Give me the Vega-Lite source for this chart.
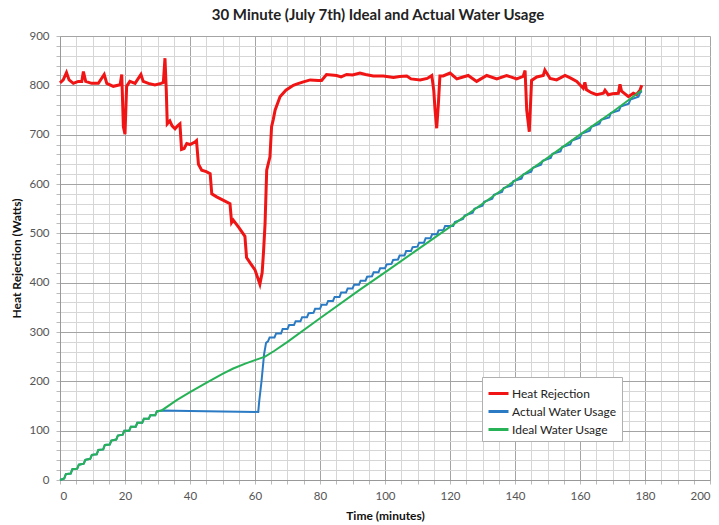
{
  "$schema": "https://vega.github.io/schema/vega-lite/v6.json",
  "width": 650,
  "height": 444,
  "autosize": {"type": "none"},
  "padding": {"left": 60, "top": 36, "right": 9, "bottom": 45},
  "background": "white",
  "title": {"text": "30 Minute (July 7th) Ideal and Actual Water Usage", "font": "Lato", "fontSize": 15, "fontWeight": "bold", "color": "#222222", "offset": 7, "anchor": "middle", "dx": -7},
  "config": {
    "view": {"stroke": null},
    "axis": {"labelFont": "Lato", "labelFontSize": 11.5, "labelColor": "#555555", "titleFont": "Lato", "titleFontSize": 12, "titleFontWeight": "bold", "titleColor": "#111111", "domainColor": "#999999", "tickColor": "#bbbbbb", "tickSize": 4}
  },
  "datasets": {
    "heat": [
      {"minutes":0,"watts":805},{"minutes":1,"watts":811},{"minutes":2,"watts":826},{"minutes":2.8,"watts":811},{"minutes":4.1,"watts":804},{"minutes":5.6,"watts":808},{"minutes":6.7,"watts":808},{"minutes":7.2,"watts":828},{"minutes":7.9,"watts":808},{"minutes":9.7,"watts":804},{"minutes":11.8,"watts":804},{"minutes":13.6,"watts":822},{"minutes":14.4,"watts":804},{"minutes":16.4,"watts":798},{"minutes":18.5,"watts":801},{"minutes":19,"watts":822},{"minutes":19.5,"watts":716},{"minutes":20,"watts":701},{"minutes":20.5,"watts":798},{"minutes":21.5,"watts":808},{"minutes":23.1,"watts":804},{"minutes":24.9,"watts":822},{"minutes":25.6,"watts":808},{"minutes":27.2,"watts":804},{"minutes":29.2,"watts":801},{"minutes":31.1,"watts":804},{"minutes":31.8,"watts":806},{"minutes":32.3,"watts":855},{"minutes":32.7,"watts":790},{"minutes":33,"watts":722},{"minutes":33.8,"watts":728},{"minutes":34.5,"watts":718},{"minutes":35.4,"watts":712},{"minutes":36.2,"watts":718},{"minutes":36.9,"watts":722},{"minutes":37.4,"watts":670},{"minutes":38.2,"watts":672},{"minutes":39,"watts":682},{"minutes":40,"watts":680},{"minutes":41.5,"watts":685},{"minutes":42,"watts":688},{"minutes":42.6,"watts":640},{"minutes":43.6,"watts":628},{"minutes":45,"watts":625},{"minutes":46.2,"watts":621},{"minutes":46.7,"watts":580},{"minutes":48.2,"watts":574},{"minutes":50,"watts":568},{"minutes":52.3,"watts":560},{"minutes":52.8,"watts":522},{"minutes":53.3,"watts":527},{"minutes":55,"watts":512},{"minutes":56.9,"watts":494},{"minutes":57.4,"watts":451},{"minutes":58.5,"watts":440},{"minutes":60,"watts":426},{"minutes":61.5,"watts":397},{"minutes":62.2,"watts":420},{"minutes":62.6,"watts":460},{"minutes":63.1,"watts":520},{"minutes":63.6,"watts":628},{"minutes":64.6,"watts":655},{"minutes":65.1,"watts":716},{"minutes":65.6,"watts":730},{"minutes":66.2,"watts":750},{"minutes":67.7,"watts":777},{"minutes":69.5,"watts":790},{"minutes":71.8,"watts":800},{"minutes":73,"watts":803},{"minutes":74.9,"watts":807},{"minutes":77,"watts":811},{"minutes":79.5,"watts":810},{"minutes":80.5,"watts":810},{"minutes":82,"watts":822},{"minutes":85.1,"watts":820},{"minutes":86.5,"watts":817},{"minutes":88.2,"watts":822},{"minutes":90,"watts":821},{"minutes":92.3,"watts":825},{"minutes":94,"watts":822},{"minutes":96.4,"watts":819},{"minutes":99.5,"watts":819},{"minutes":102.6,"watts":816},{"minutes":104.5,"watts":818},{"minutes":106.7,"watts":819},{"minutes":108,"watts":813},{"minutes":110.8,"watts":811},{"minutes":113,"watts":814},{"minutes":114.4,"watts":820},{"minutes":115,"watts":790},{"minutes":115.4,"watts":750},{"minutes":115.9,"watts":713},{"minutes":116.4,"watts":760},{"minutes":116.9,"watts":819},{"minutes":117.9,"watts":819},{"minutes":120,"watts":825},{"minutes":122.1,"watts":813},{"minutes":124,"watts":817},{"minutes":125.6,"watts":820},{"minutes":128.2,"watts":808},{"minutes":131.3,"watts":820},{"minutes":134.4,"watts":813},{"minutes":137.4,"watts":820},{"minutes":140.5,"watts":813},{"minutes":142.5,"watts":818},{"minutes":143.1,"watts":830},{"minutes":143.6,"watts":750},{"minutes":144.4,"watts":706},{"minutes":145.1,"watts":810},{"minutes":146.7,"watts":817},{"minutes":148.7,"watts":820},{"minutes":149.2,"watts":831},{"minutes":150.8,"watts":814},{"minutes":152.8,"watts":811},{"minutes":155.4,"watts":820},{"minutes":157,"watts":815},{"minutes":159,"watts":808},{"minutes":161,"watts":794},{"minutes":161.5,"watts":806},{"minutes":162,"watts":791},{"minutes":163.5,"watts":785},{"minutes":165.1,"watts":781},{"minutes":167.2,"watts":784},{"minutes":167.7,"watts":790},{"minutes":168.7,"watts":781},{"minutes":170,"watts":783},{"minutes":171.8,"watts":784},{"minutes":172.3,"watts":802},{"minutes":172.8,"watts":788},{"minutes":174.9,"watts":777},{"minutes":176.4,"watts":784},{"minutes":177.4,"watts":781},{"minutes":178.5,"watts":791},{"minutes":179,"watts":800}
    ],
    "actual": [
      {"minutes":0,"watts":0},{"minutes":1.3,"watts":3},{"minutes":1.8,"watts":12},{"minutes":3.3,"watts":13},{"minutes":3.8,"watts":22},{"minutes":5.3,"watts":23},{"minutes":5.8,"watts":31},{"minutes":7.3,"watts":33},{"minutes":7.8,"watts":41},{"minutes":9.3,"watts":43},{"minutes":9.8,"watts":51},{"minutes":11.3,"watts":52},{"minutes":11.8,"watts":61},{"minutes":13.3,"watts":62},{"minutes":13.8,"watts":71},{"minutes":15.3,"watts":72},{"minutes":15.8,"watts":80},{"minutes":17.3,"watts":82},{"minutes":17.8,"watts":90},{"minutes":19.3,"watts":92},{"minutes":19.8,"watts":100},{"minutes":21.3,"watts":100},{"minutes":21.8,"watts":108},{"minutes":23.3,"watts":108},{"minutes":23.8,"watts":116},{"minutes":25.3,"watts":116},{"minutes":25.8,"watts":124},{"minutes":27.3,"watts":124},{"minutes":27.8,"watts":131},{"minutes":29.3,"watts":131},{"minutes":29.8,"watts":139},{"minutes":31.3,"watts":141},{"minutes":40,"watts":140},{"minutes":50,"watts":139},{"minutes":61,"watts":138},{"minutes":61.3,"watts":160},{"minutes":62,"watts":200},{"minutes":62.8,"watts":255},{"minutes":63.4,"watts":278},{"minutes":64,"watts":281},{"minutes":64.5,"watts":289},{"minutes":66,"watts":289},{"minutes":66.5,"watts":297},{"minutes":68,"watts":297},{"minutes":68.5,"watts":306},{"minutes":70,"watts":306},{"minutes":70.5,"watts":314},{"minutes":72,"watts":314},{"minutes":72.5,"watts":322},{"minutes":74,"watts":322},{"minutes":74.5,"watts":330},{"minutes":76,"watts":330},{"minutes":76.5,"watts":338},{"minutes":78,"watts":339},{"minutes":78.5,"watts":347},{"minutes":80,"watts":347},{"minutes":80.5,"watts":355},{"minutes":82,"watts":355},{"minutes":82.5,"watts":363},{"minutes":84,"watts":363},{"minutes":84.5,"watts":371},{"minutes":86,"watts":371},{"minutes":86.5,"watts":380},{"minutes":88,"watts":380},{"minutes":88.5,"watts":388},{"minutes":90,"watts":388},{"minutes":90.5,"watts":396},{"minutes":92,"watts":396},{"minutes":92.5,"watts":404},{"minutes":94,"watts":404},{"minutes":94.5,"watts":412},{"minutes":96,"watts":413},{"minutes":96.5,"watts":421},{"minutes":98,"watts":421},{"minutes":98.5,"watts":429},{"minutes":100,"watts":429},{"minutes":100.5,"watts":437},{"minutes":102,"watts":438},{"minutes":102.5,"watts":446},{"minutes":104,"watts":447},{"minutes":104.5,"watts":455},{"minutes":106,"watts":455},{"minutes":106.5,"watts":464},{"minutes":108,"watts":464},{"minutes":108.5,"watts":472},{"minutes":110,"watts":473},{"minutes":110.5,"watts":481},{"minutes":112,"watts":481},{"minutes":112.5,"watts":490},{"minutes":114,"watts":490},{"minutes":114.5,"watts":498},{"minutes":116,"watts":498},{"minutes":116.5,"watts":506},{"minutes":118,"watts":507},{"minutes":118.5,"watts":515},{"minutes":121,"watts":515},{"minutes":121.5,"watts":523},{"minutes":124,"watts":529},{"minutes":124.5,"watts":536},{"minutes":127,"watts":542},{"minutes":127.5,"watts":550},{"minutes":130,"watts":556},{"minutes":130.5,"watts":564},{"minutes":133,"watts":570},{"minutes":133.5,"watts":578},{"minutes":136,"watts":584},{"minutes":136.5,"watts":592},{"minutes":139,"watts":597},{"minutes":139.5,"watts":606},{"minutes":142,"watts":611},{"minutes":142.5,"watts":619},{"minutes":145,"watts":625},{"minutes":145.5,"watts":633},{"minutes":148,"watts":639},{"minutes":148.5,"watts":647},{"minutes":151,"watts":653},{"minutes":151.5,"watts":661},{"minutes":154,"watts":666},{"minutes":154.5,"watts":675},{"minutes":157,"watts":680},{"minutes":157.5,"watts":688},{"minutes":160,"watts":694},{"minutes":160.5,"watts":702},{"minutes":163,"watts":708},{"minutes":163.5,"watts":716},{"minutes":166,"watts":722},{"minutes":166.5,"watts":730},{"minutes":169,"watts":735},{"minutes":169.5,"watts":744},{"minutes":172,"watts":749},{"minutes":172.5,"watts":757},{"minutes":175,"watts":763},{"minutes":175.5,"watts":771},{"minutes":178,"watts":777},{"minutes":178.5,"watts":785},{"minutes":179,"watts":788}
    ],
    "ideal": [
      {"minutes":0,"watts":0},{"minutes":1.3,"watts":3},{"minutes":1.8,"watts":12},{"minutes":3.3,"watts":13},{"minutes":3.8,"watts":22},{"minutes":5.3,"watts":23},{"minutes":5.8,"watts":31},{"minutes":7.3,"watts":33},{"minutes":7.8,"watts":41},{"minutes":9.3,"watts":43},{"minutes":9.8,"watts":51},{"minutes":11.3,"watts":52},{"minutes":11.8,"watts":61},{"minutes":13.3,"watts":62},{"minutes":13.8,"watts":71},{"minutes":15.3,"watts":72},{"minutes":15.8,"watts":80},{"minutes":17.3,"watts":82},{"minutes":17.8,"watts":90},{"minutes":19.3,"watts":92},{"minutes":19.8,"watts":100},{"minutes":21.3,"watts":100},{"minutes":21.8,"watts":108},{"minutes":23.3,"watts":108},{"minutes":23.8,"watts":116},{"minutes":25.3,"watts":116},{"minutes":25.8,"watts":124},{"minutes":27.3,"watts":124},{"minutes":27.8,"watts":131},{"minutes":29.3,"watts":131},{"minutes":29.8,"watts":139},{"minutes":31.3,"watts":141},{"minutes":35.9,"watts":162},{"minutes":40,"watts":178},{"minutes":45,"watts":197},{"minutes":50,"watts":215},{"minutes":53.3,"watts":226},{"minutes":57,"watts":236},{"minutes":60,"watts":243},{"minutes":63.1,"watts":250},{"minutes":66,"watts":262},{"minutes":70,"watts":280},{"minutes":80,"watts":328},{"minutes":92.3,"watts":386},{"minutes":100,"watts":421},{"minutes":110,"watts":467},{"minutes":120,"watts":513},{"minutes":131.3,"watts":566},{"minutes":140,"watts":607},{"minutes":150,"watts":653},{"minutes":160,"watts":700},{"minutes":170,"watts":746},{"minutes":179,"watts":790}
    ]
  },
  "encoding": {
    "x": {"field": "minutes", "type": "quantitative", "title": "Time (minutes)",
      "scale": {"domain": [0, 200], "nice": false, "zero": false},
      "axis": {"values": [0,5,10,15,20,25,30,35,40,45,50,55,60,65,70,75,80,85,90,95,100,105,110,115,120,125,130,135,140,145,150,155,160,165,170,175,180,185,190,195,200],
        "labelExpr": "datum.value % 20 === 0 ? datum.label : ''", "labelPadding": 6, "titlePadding": 9,
        "grid": true, "gridColor": {"condition": {"test": "datum.value % 20 === 0", "value": "#a4a4a4"}, "value": "#d6d6d6"}, "gridWidth": 1}},
    "y": {"field": "watts", "type": "quantitative", "title": "Heat Rejection (Watts)",
      "scale": {"domain": [0, 900], "nice": false},
      "axis": {"values": [0,20,40,60,80,100,120,140,160,180,200,220,240,260,280,300,320,340,360,380,400,420,440,460,480,500,520,540,560,580,600,620,640,660,680,700,720,740,760,780,800,820,840,860,880,900],
        "labelExpr": "datum.value % 100 === 0 ? datum.label : ''", "labelPadding": 7, "titlePadding": 5,
        "grid": true, "gridColor": {"condition": {"test": "datum.value % 100 === 0", "value": "#a4a4a4"}, "value": "#d6d6d6"}, "gridWidth": 1}},
    "color": {"type": "nominal",
      "scale": {"domain": ["Heat Rejection", "Actual Water Usage", "Ideal Water Usage"], "range": ["#f01414", "#2b7bc4", "#27b257"]},
      "legend": {"title": null, "orient": "none", "legendX": 422, "legendY": 341, "symbolType": "stroke", "symbolSize": 400, "symbolStrokeWidth": 3,
        "labelFont": "Lato", "labelFontSize": 12, "labelColor": "#222222", "fillColor": "white", "strokeColor": "#b0b0b0", "padding": 5, "rowPadding": 0, "labelOffset": 2}}
  },
  "layer": [
    {"data": {"name": "heat"}, "mark": {"type": "line", "strokeWidth": 3}, "encoding": {"color": {"datum": "Heat Rejection"}}},
    {"data": {"name": "actual"}, "mark": {"type": "line", "strokeWidth": 2}, "encoding": {"color": {"datum": "Actual Water Usage"}}},
    {"data": {"name": "ideal"}, "mark": {"type": "line", "strokeWidth": 2}, "encoding": {"color": {"datum": "Ideal Water Usage"}}}
  ]
}
